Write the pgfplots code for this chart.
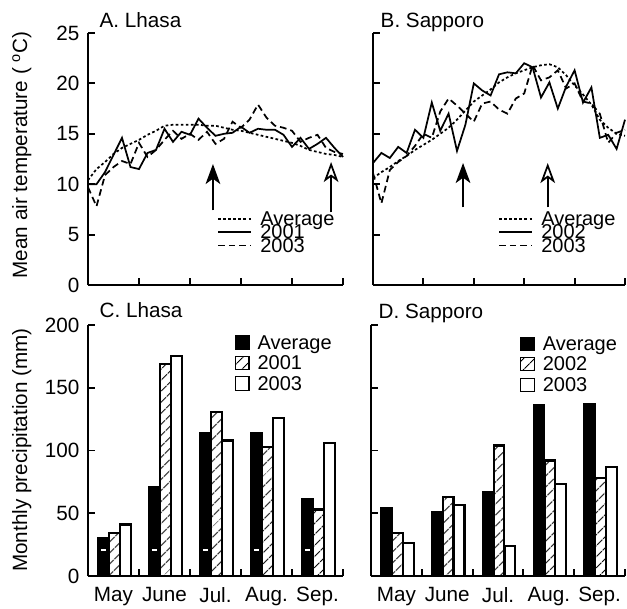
\documentclass[border=0pt]{standalone}
\usepackage{fontspec}
\setmainfont{Liberation Sans}
\usepackage{pgfplots}
\usepackage{pgfplotstable}
\pgfplotsset{compat=1.18}
\usetikzlibrary{arrows.meta,patterns.meta}

% 5-day means, day 0 = 1 May
\pgfplotstableread{
day lhavg lhA lhB spavg spA spB
0   10.4 10.0  9.7 10.6 12.1 11.1
5   11.5 10.0  7.8 11.2 13.1  8.1
10  12.2 11.2 10.9 11.7 12.6 11.4
15  13.0 12.9 11.7 12.3 13.7 12.2
20  13.6 14.6 12.3 12.8 13.1 12.8
25  14.0 11.7 12.0 13.4 15.4 13.8
30  14.4 11.5 14.1 13.9 14.6 15.0
35  14.9 13.1 12.7 14.4 18.1 14.6
40  15.3 13.4 13.4 15.0 15.3 17.2
45  15.8 15.5 14.4 15.6 17.0 18.5
50  15.9 14.2 15.3 16.4 13.3 17.8
55  15.9 15.2 14.5 17.3 15.9 17.0
60  15.9 14.9 15.0 18.2 20.0 16.2
65  15.9 16.5 14.4 18.8 19.3 18.0
70  15.8 15.6 15.2 19.4 18.8 18.2
75  15.8 14.8 14.0 20.1 20.9 17.4
80  15.6 15.0 14.5 20.6 21.1 17.0
85  15.4 15.1 16.2 21.0 21.0 18.5
90  15.3 15.7 15.6 21.3 22.0 19.0
95  15.1 15.1 16.4 21.6 21.6 21.8
100 14.9 15.5 17.9 21.8 18.6 20.3
105 14.7 15.4 16.6 21.9 20.1 20.6
110 14.5 15.4 15.8 21.6 17.5 21.3
115 14.3 14.9 15.6 20.8 19.7 19.5
120 14.1 13.7 15.3 19.8 21.3 20.0
125 13.8 14.6 14.2 18.9 18.1 18.2
130 13.4 13.5 14.6 17.9 19.6 18.0
135 13.2 14.0 14.9 16.4 14.6 17.0
140 13.0 14.6 13.6 15.6 14.9 14.1
145 12.9 13.6 13.2 15.0 13.5 15.1
150 12.7 12.7 13.0 14.8 16.4 15.4
}\temps

\pgfplotstableread{
m   avg  yA   yB
0.5 30   34.5 41
1.5 71   169  175
2.5 114  131  108
3.5 114  103  126
4.5 61   53   106
}\lhprec

\pgfplotstableread{
m   avg  yA   yB
0.5 54   34.5 26
1.5 51   63   56.6
2.5 67   104  24
3.5 136  92   73
4.5 137  78   87
}\spprec

\pgfplotsset{
  panel/.style={
    scale only axis, clip=false,
    axis x line*=bottom, axis y line*=left,
    axis line style={-, line width=1.4pt},
    tick align=inside,
    tick style={black, line width=1.4pt},
    major tick length=5pt, minor tick length=5pt,
    tick label style={font=\fontsize{15.5}{18}\selectfont},
    yticklabel style={xshift=-3pt},
    xticklabel style={yshift=-5pt},
    /pgf/number format/assume math mode=true,
    legend cell align=left,
  },
  tempax/.style={panel, xmin=0, xmax=150, ymin=0, ymax=25,
    xtick={30,60,90,120,150}, xticklabels={}, ytick={0,5,...,25},
    legend image code/.code={\draw[##1] (0pt,0pt) -- (25pt,0pt);},
    legend style={draw=none, fill=none, anchor=north west, inner sep=0pt,
      row sep=0pt, column sep=6pt, font=\fontsize{15}{17}\selectfont,
      nodes={inner sep=0pt, text height=10pt, text depth=0pt}},
  },
  barax/.style={panel, xmin=0, xmax=5, ymin=0, ymax=200, ytick={0,50,...,200},
    xtick={0.5,1.5,2.5,3.5,4.5}, xticklabels={May,June,Jul.,Aug.,Sep.},
    minor xtick={1,2,3,4,5}, major x tick style={draw=none},
    legend style={draw=none, fill=none, anchor=north west, inner sep=0pt,
      row sep=4.6pt, column sep=6pt, font=\fontsize{15}{17}\selectfont,
      nodes={inner sep=0pt, text height=10pt, text depth=0pt}},
  },
  avgline/.style={black, line width=1.3pt, dash pattern=on 2pt off 1.8pt},
  yAline/.style={black, line width=1.3pt, solid},
  yBline/.style={black, line width=1.3pt, dash pattern=on 5pt off 3pt},
  sqleg/.style={legend image code/.code={\draw[##1, line width=0.8pt] (0pt,-5pt) rectangle (10pt,5pt);}},
  avgbar/.style={ybar, bar width=0.21, bar shift=-0.195, fill=black, draw=black, line width=1.6pt, sqleg},
  hatbar/.style={ybar, bar width=0.21, bar shift=0.02, draw=black, line width=1.6pt,
    pattern={Lines[angle=45,distance=6.5pt,line width=0.9pt]}, sqleg},
  whbar/.style={ybar, bar width=0.21, bar shift=0.235, fill=white, draw=black, line width=1.6pt, sqleg},
}
\tikzset{
  upfull/.style={line width=1.3pt, -{Stealth[length=15pt,width=11pt,inset=4pt]}},
  upopen/.style={line width=1.3pt, -{Stealth[open,length=15pt,width=11pt,inset=4pt]}},
  lab/.style={font=\fontsize{15.5}{18}\selectfont},
}

\begin{document}
\begin{tikzpicture}
\useasboundingbox (0pt,0pt) rectangle (470.25pt,-456.75pt);

% A. Lhasa temperature
\begin{axis}[tempax, at={(66pt,-213.75pt)}, anchor=south west, width=191.25pt, height=189pt,
  legend style={at={(0.506,0.29)}}]
\addplot[avgline] table[x=day,y=lhavg]{\temps};
\addlegendentry{Average}
\addplot[yAline] table[x=day,y=lhA]{\temps};
\addlegendentry{2001}
\addplot[yBline] table[x=day,y=lhB]{\temps};
\addlegendentry{2003}
\draw[upfull] (axis cs:73.5,7.4) -- (axis cs:73.5,12.0);
\draw[upopen] (axis cs:143,7.2) -- (axis cs:143,12.2);
\end{axis}

% B. Sapporo temperature
\begin{axis}[tempax, at={(279.75pt,-213.75pt)}, anchor=south west, width=189pt, height=189pt,
  yticklabels={}, legend style={at={(0.496,0.29)}}]
\addplot[avgline] table[x=day,y=spavg]{\temps};
\addlegendentry{Average}
\addplot[yAline] table[x=day,y=spA]{\temps};
\addlegendentry{2002}
\addplot[yBline] table[x=day,y=spB]{\temps};
\addlegendentry{2003}
\draw[upfull] (axis cs:53.6,7.7) -- (axis cs:53.6,12.1);
\draw[upopen] (axis cs:104,7.7) -- (axis cs:104,12.1);
\end{axis}

% C. Lhasa precipitation
\begin{axis}[barax, at={(66pt,-432pt)}, anchor=south west, width=191.25pt, height=188.25pt,
  legend style={at={(0.576,0.96)}}]
\addplot[avgbar] table[x=m,y=avg]{\lhprec};
\addlegendentry{Average}
\addplot[hatbar] table[x=m,y=yA]{\lhprec};
\addlegendentry{2001}
\addplot[whbar] table[x=m,y=yB]{\lhprec};
\addlegendentry{2003}
\draw[white, line width=1pt] (axis cs:0.25,20.6) -- (axis cs:0.36,20.6);
\draw[white, line width=1pt] (axis cs:1.25,20.6) -- (axis cs:1.36,20.6);
\draw[white, line width=1pt] (axis cs:2.25,20.6) -- (axis cs:2.36,20.6);
\draw[white, line width=1pt] (axis cs:3.25,20.6) -- (axis cs:3.36,20.6);
\draw[white, line width=1pt] (axis cs:4.25,20.6) -- (axis cs:4.36,20.6);
\end{axis}

% D. Sapporo precipitation
\begin{axis}[barax, at={(278.25pt,-432pt)}, anchor=south west, width=190.5pt, height=188.25pt,
  yticklabels={}, legend style={at={(0.587,0.955)}}]
\addplot[avgbar] table[x=m,y=avg]{\spprec};
\addlegendentry{Average}
\addplot[hatbar] table[x=m,y=yA]{\spprec};
\addlegendentry{2002}
\addplot[whbar] table[x=m,y=yB]{\spprec};
\addlegendentry{2003}
\end{axis}

\node[lab, anchor=base west] at (71.25pt,-21pt) {A. Lhasa};
\node[lab, anchor=base west] at (282pt,-21pt) {B. Sapporo};
\node[lab, anchor=base west] at (71.25pt,-237.75pt) {C. Lhasa};
\node[lab, anchor=base west] at (280.5pt,-238.5pt) {D. Sapporo};
\node[lab, rotate=90, anchor=base] at (20.25pt,-116.25pt) {Mean air temperature ( \textsuperscript{o}C)};
\node[lab, rotate=90, anchor=base] at (20.25pt,-337.5pt) {Monthly precipitation (mm)};
\end{tikzpicture}
\end{document}
